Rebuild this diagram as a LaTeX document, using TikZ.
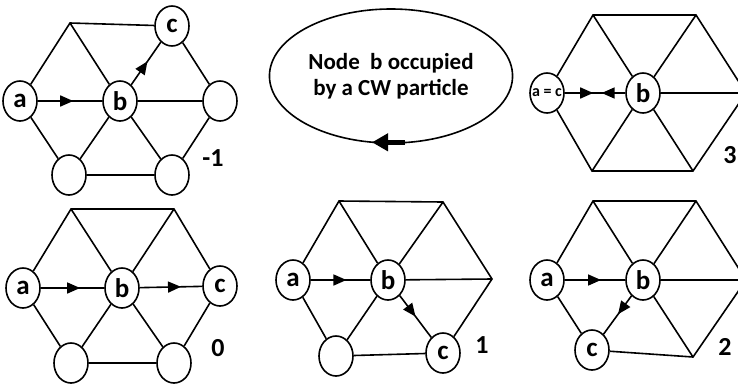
\documentclass[tikz,border=0pt]{standalone}
\usepackage{fontspec}
\setmainfont{Carlito}
\usetikzlibrary{arrows.meta,shapes.geometric,decorations.markings}
\tikzset{>={Triangle[width=11pt,length=13pt]}}
\tikzset{
  site/.style={draw, ellipse, fill=white, minimum width=34pt, minimum height=40pt,
    inner sep=0pt, font=\fontsize{27}{27}\selectfont\bfseries},
  midarrow/.style={postaction={decorate},
    decoration={markings, mark=at position #1 with {\arrow{>}}}},
  midarrow/.default=0.55,
  steplabel/.style={font=\fontsize{26}{26}\selectfont\bfseries}
}

\begin{document}
\begin{tikzpicture}[x=1pt, y=-1pt, line width=1.6pt]
\useasboundingbox (0,0) rectangle (738,386);

% step -1
\node[site] (aM) at (20,101) {a};
\node[site] (bM) at (120,101) {b};
\node[site] (cM) at (172,26) {c};
\node[site] (rM) at (220,101) {};
\node[site] (blM) at (69,175) {};
\node[site] (brM) at (172,175) {};
\coordinate (tlM) at (70,23);
\draw (aM) -- (tlM) -- (cM) -- (rM) -- (brM) -- (blM) -- (aM);
\draw (tlM) -- (bM) -- (rM) (bM) -- (blM) (bM) -- (brM);
\draw[midarrow=0.55] (aM) -- (bM);
\draw[midarrow=0.55] (bM) -- (cM);
\node[steplabel] (lM) at (213,158) {-1};

% step 0
\node[site] (a0) at (23,288) {a};
\node[site] (b0) at (122,288) {b};
\node[site] (c0) at (220,286) {c};
\node[site] (bl0) at (71,363) {};
\node[site] (br0) at (174,363) {};
\coordinate (tl0) at (71,209);
\coordinate (tr0) at (174,209);
\draw (a0) -- (tl0) -- (tr0) -- (c0) -- (br0) -- (bl0) -- (a0);
\draw (tl0) -- (b0) -- (tr0) (b0) -- (bl0) (b0) -- (br0);
\draw[midarrow=0.62] (a0) -- (b0);
\draw[midarrow=0.66] (b0) -- (c0);
\node[steplabel] (l0) at (218,348) {0};

% step 1
\node[site] (a1) at (293,280) {a};
\node[site] (b1) at (388,280) {b};
\node[site] (bl1) at (336,356) {};
\node[site] (c1) at (443,353) {c};
\coordinate (tl1) at (339,201);
\coordinate (tr1) at (443,202);
\coordinate (r1) at (492,279);
\draw (a1) -- (tl1) -- (tr1) -- (r1) -- (c1) -- (bl1) -- (a1);
\draw (tl1) -- (b1) -- (tr1) (b1) -- (r1) (b1) -- (bl1);
\draw[midarrow=0.6] (a1) -- (b1);
\draw[midarrow=0.5] (b1) -- (c1);
\node[steplabel] (l1) at (482,345) {1};

% step 2
\node[site] (a2) at (547,280) {a};
\node[site] (b2) at (643,280) {b};
\node[site] (c2) at (592,350) {c};
\coordinate (tl2) at (593,201);
\coordinate (tr2) at (696,201);
\coordinate (r2) at (746,280);
\coordinate (br2) at (693,357);
\draw (a2) -- (tl2) -- (tr2) -- (r2) -- (br2) -- (c2) -- (a2);
\draw (tl2) -- (b2) -- (tr2) (b2) -- (r2) (b2) -- (br2);
\draw[midarrow=0.6] (a2) -- (b2);
\draw[midarrow=0.48] (b2) -- (c2);
\node[steplabel] (l2) at (725,347) {2};

% step 3
\node[site, inner xsep=-6pt, font=\fontsize{16}{16}\selectfont\bfseries] (ac3) at (547,93) {a = c};
\node[site] (b3) at (643,93) {b};
\coordinate (tl3) at (593,15);
\coordinate (tr3) at (696,15);
\coordinate (r3) at (746,93);
\coordinate (br3) at (693,171);
\coordinate (bl3) at (592,171);
\draw (ac3) -- (tl3) -- (tr3) -- (r3) -- (br3) -- (bl3) -- (ac3);
\draw (tl3) -- (b3) -- (tr3) (b3) -- (r3) (b3) -- (br3) (b3) -- (bl3);
\draw[midarrow=0.47] (ac3) -- (b3);
\draw[midarrow=0.39] (b3) -- (ac3);
\node[steplabel] (l3) at (730,155) {3};

% caption ellipse
\node[draw, ellipse, minimum width=212pt, minimum height=134pt, align=center,
  font=\fontsize{23}{26}\selectfont\bfseries] (note) at (391,76)
  {Node\ \ b occupied\\by a CW particle};
\draw[line width=4.5pt, -{Triangle[width=17pt,length=16pt]}]
  ([xshift=14pt, yshift=1.5pt]note.south) -- ([xshift=-19pt, yshift=1.5pt]note.south);
\end{tikzpicture}
\end{document}
